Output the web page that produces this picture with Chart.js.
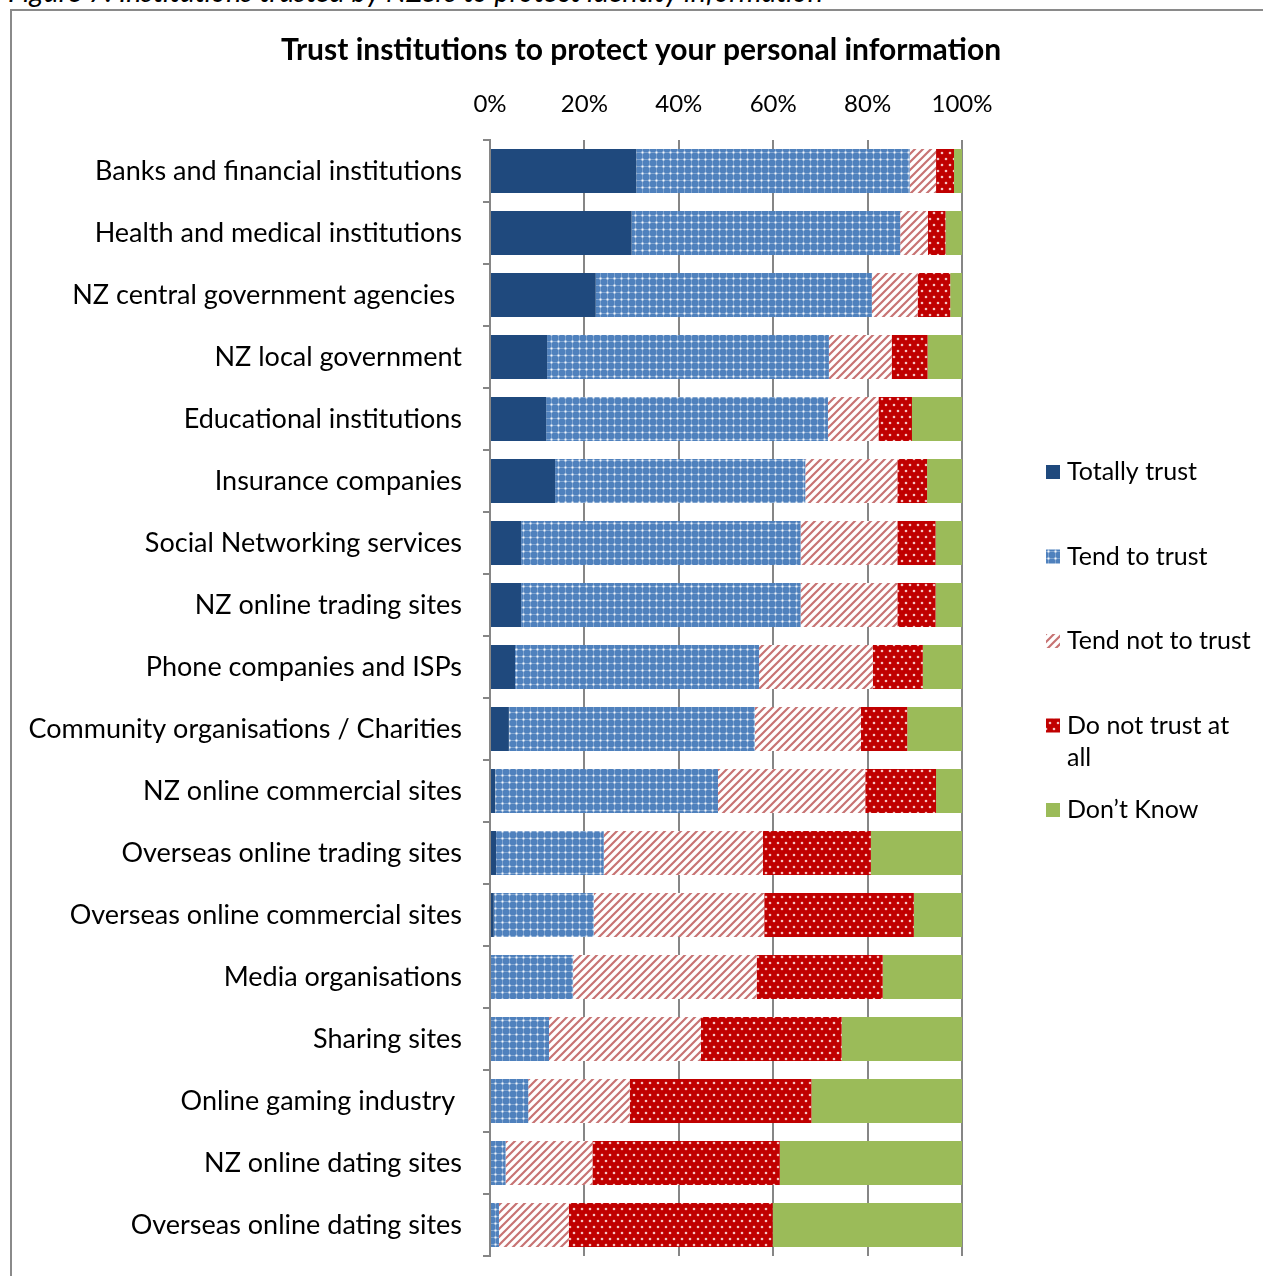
<!DOCTYPE html>
<html>
<head>
<meta charset="utf-8">
<script src="https://cdn.jsdelivr.net/npm/chart.js@4.4.1/dist/chart.umd.min.js"></script>
<style>
  html, body { margin: 0; padding: 0; background: #fff; }
  #wrap { position: relative; width: 1263px; height: 1276px; overflow: hidden; }
  #frame { position: absolute; left: 10px; top: 9px; width: 1300px; height: 1300px;
           border-left: 2px solid #8a8a8a; border-top: 2px solid #8a8a8a; }
  #caption { position: absolute; left: 8px; top: -26px; margin: 0;
             font: italic 28.7px Lato, sans-serif; color: #000; white-space: nowrap; }
  #chart { position: absolute; left: 0; top: 0; }
</style>
</head>
<body>
<div id="wrap">
  <div id="frame"></div>
  <p id="caption">Figure 7: Institutions trusted by NZers to protect identity information</p>
  <canvas id="chart" width="1263" height="1276"></canvas>
</div>
<script>
// Survey categories (top to bottom)
const categories = [
  'Banks and financial institutions',
  'Health and medical institutions',
  'NZ central government agencies ',
  'NZ local government',
  'Educational institutions',
  'Insurance companies',
  'Social Networking services',
  'NZ online trading sites',
  'Phone companies and ISPs',
  'Community organisations / Charities',
  'NZ online commercial sites',
  'Overseas online trading sites',
  'Overseas online commercial sites',
  'Media organisations',
  'Sharing sites',
  'Online gaming industry ',
  'NZ online dating sites',
  'Overseas online dating sites'
];

// Share of respondents (%) per answer
const totallyTrust   = [31.0, 30.0, 22.4, 12.1, 11.9, 13.8, 6.6, 6.6, 5.3, 4.0, 1.1, 1.3, 0.8, 0, 0, 0, 0, 0];
const tendToTrust    = [57.9, 56.9, 58.5, 59.7, 59.7, 53.0, 59.2, 59.2, 51.7, 52.1, 47.2, 22.8, 21.2, 17.6, 12.5, 8.1, 3.3, 1.9];
const tendNotToTrust = [5.6, 5.9, 9.7, 13.3, 10.7, 19.5, 20.5, 20.5, 24.1, 22.5, 31.2, 33.7, 36.1, 38.9, 32.2, 21.5, 18.4, 14.8];
const doNotTrust     = [3.8, 3.7, 6.9, 7.6, 7.1, 6.3, 8.1, 8.1, 10.6, 9.8, 15.0, 22.9, 31.7, 26.7, 29.8, 38.5, 39.7, 43.2];
const dontKnow       = [1.7, 3.5, 2.5, 7.3, 10.6, 7.4, 5.6, 5.6, 8.3, 11.6, 5.5, 19.3, 10.2, 16.8, 25.5, 31.9, 38.6, 40.1];

const seriesNames = ['Totally trust', 'Tend to trust', 'Tend not to trust', 'Do not trust at all', 'Don\u2019t Know'];
const xTicks = [0, 20, 40, 60, 80, 100];

const FONT = 'Lato, "Open Sans", sans-serif';

// ---- fill patterns ----
function makeTile(w, h, paint) {
  const c = document.createElement('canvas');
  c.width = w; c.height = h;
  const g = c.getContext('2d');
  paint(g, w, h);
  return document.createElement('canvas').getContext('2d').createPattern(c, 'repeat');
}

const dottedBlue = makeTile(7, 7, (g, w, h) => {
  g.fillStyle = '#4f81bd';
  g.fillRect(0, 0, w, h);
  g.fillStyle = 'rgba(255,255,255,0.28)';
  g.fillRect(0, 5, w, 1);
  g.fillRect(5, 0, 1, h);
  g.fillStyle = 'rgba(255,255,255,0.9)';
  g.fillRect(4.5, 4.5, 2, 2);
});

const hatchRed = makeTile(8, 8, (g, w, h) => {
  g.fillStyle = '#ffffff';
  g.fillRect(0, 0, w, h);
  g.strokeStyle = 'rgba(185,80,80,0.8)';
  g.lineWidth = 2.2;
  g.beginPath();
  g.moveTo(-2, 10); g.lineTo(10, -2);
  g.moveTo(-6, 6); g.lineTo(6, -6);
  g.moveTo(2, 14); g.lineTo(14, 2);
  g.stroke();
});

const dottedRed = makeTile(8, 12, (g, w, h) => {
  g.fillStyle = '#c00000';
  g.fillRect(0, 0, w, h);
  g.fillStyle = 'rgba(255,230,230,0.85)';
  g.beginPath(); g.arc(2, 3, 1.3, 0, Math.PI * 2); g.fill();
  g.beginPath(); g.arc(6, 9, 1.3, 0, Math.PI * 2); g.fill();
});

const fills = ['#1f497d', dottedBlue, hatchRed, dottedRed, '#9bbb59'];
const seriesValues = [totallyTrust, tendToTrust, tendNotToTrust, doNotTrust, dontKnow];

// ---- legend drawn at the right of the plot ----
const sideLegend = {
  id: 'sideLegend',
  afterDraw(chart, args, opts) {
    const ctx = chart.ctx;
    ctx.save();
    ctx.font = opts.font;
    ctx.textBaseline = 'middle';
    ctx.textAlign = 'left';
    chart.data.datasets.forEach((ds, i) => {
      const y = opts.top + i * opts.step;
      ctx.fillStyle = ds.backgroundColor;
      ctx.fillRect(opts.boxX, y - opts.box / 2, opts.box, opts.box);
      ctx.fillStyle = '#000';
      // wrap words to the available width
      const words = ds.label.split(' ');
      const lines = [];
      let line = '';
      words.forEach(w => {
        const test = line ? line + ' ' + w : w;
        if (line && ctx.measureText(test).width > opts.maxWidth) {
          lines.push(line); line = w;
        } else line = test;
      });
      lines.push(line);
      lines.forEach((t, k) => ctx.fillText(t, opts.textX, y + k * opts.lineGap));
    });
    ctx.restore();
  }
};

Chart.defaults.color = '#000';
Chart.defaults.font.family = FONT;

new Chart(document.getElementById('chart'), {
  type: 'bar',
  data: {
    labels: categories,
    datasets: seriesNames.map((name, i) => ({
      label: name,
      data: seriesValues[i],
      backgroundColor: fills[i],
      borderWidth: 0,
      categoryPercentage: 1,
      barPercentage: 0.71
    }))
  },
  options: {
    indexAxis: 'y',
    responsive: false,
    animation: false,
    layout: { padding: { left: 19, right: 0, top: 0, bottom: 20 } },
    plugins: {
      legend: { display: false },
      tooltip: { enabled: false },
      title: {
        display: true,
        text: 'Trust institutions to protect your personal information',
        font: { family: FONT, size: 30, weight: 'bold' },
        color: '#000',
        padding: { top: 32, bottom: 8 }
      },
      sideLegend: {
        font: '25px ' + FONT,
        top: 472, step: 84.5, lineGap: 32,
        boxX: 1046, box: 14, textX: 1067, maxWidth: 188
      }
    },
    scales: {
      x: {
        position: 'top',
        stacked: true,
        min: 0, max: 100,
        afterBuildTicks: s => { s.ticks = xTicks.map(v => ({ value: v })); },
        afterFit: s => { s.height = 140 - 76; s.paddingLeft = 0; s.paddingRight = 0; },
        ticks: { callback: v => v + '%', font: { size: 24 }, padding: 21.6, color: '#000' },
        grid: { color: '#868686', lineWidth: 2, drawTicks: false },
        border: { display: false }
      },
      y: {
        stacked: true,
        afterFit: s => { s.width = 490 - 19; s.paddingTop = 0; s.paddingBottom = 0; },
        ticks: { font: { size: 27 }, padding: 21, color: '#000', autoSkip: false },
        grid: { drawOnChartArea: false, drawTicks: true, tickLength: 7, color: '#868686', lineWidth: 2 },
        border: { color: '#868686', width: 2 }
      },
      yRight: {
        position: 'right',
        afterFit: s => { s.width = 1263 - 962; s.paddingTop = 0; s.paddingBottom = 0; },
        ticks: { display: false },
        grid: { display: false },
        border: { display: false }
      }
    }
  },
  plugins: [sideLegend]
});
</script>
</body>
</html>
